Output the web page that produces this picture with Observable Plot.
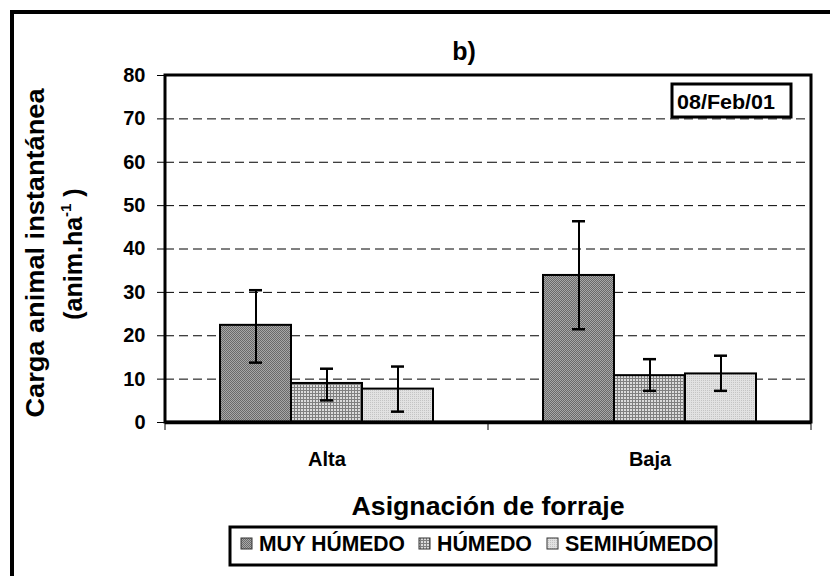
<!DOCTYPE html>
<html><head><meta charset="utf-8">
<script src="https://cdn.jsdelivr.net/npm/d3@7"></script>
<script src="https://cdn.jsdelivr.net/npm/@observablehq/plot@0.6"></script>
<style>
html,body{margin:0;padding:0;background:#fff;overflow:hidden;width:830px;height:576px;}
#wrap{position:relative;width:830px;height:576px;font-family:"Liberation Sans",Arial,sans-serif;font-weight:bold;color:#000;}
#outer{position:absolute;left:10px;top:10px;width:900px;height:700px;border:4px solid #000;box-sizing:border-box;}
#chart{position:absolute;left:0;top:0;}
#annot{position:absolute;left:0;top:0;pointer-events:none;}
#annot text{font-family:"Liberation Sans",Arial,sans-serif;font-weight:bold;fill:#000;}
</style></head>
<body>
<div id="wrap">
<svg width="0" height="0" style="position:absolute">
  <defs>
    <pattern id="pMuy" patternUnits="userSpaceOnUse" width="2" height="2">
      <rect width="2" height="2" fill="#a8a8a8"/>
      <rect x="0" y="0" width="1" height="1" fill="#6a6a6a"/>
      <rect x="1" y="1" width="1" height="1" fill="#6a6a6a"/>
    </pattern>
    <pattern id="pHum" patternUnits="userSpaceOnUse" width="3" height="3">
      <rect width="3" height="3" fill="#dcdcdc"/>
      <rect x="0" y="0" width="3" height="1" fill="#808080"/>
      <rect x="0" y="0" width="1" height="3" fill="#808080"/>
    </pattern>
    <pattern id="pSemi" patternUnits="userSpaceOnUse" width="2" height="2">
      <rect width="2" height="2" fill="#e2e2e2"/>
      <rect x="0" y="0" width="1" height="1" fill="#c4c4c4"/>
    </pattern>
  </defs>
</svg>
<div id="outer"></div>
<div id="chart"></div>
<svg id="annot" width="830" height="576"></svg>
</div>
<script>
// ---- data ----
const groups = ["Alta", "Baja"];
const series = ["MUY HÚMEDO", "HÚMEDO", "SEMIHÚMEDO"];
const muyHumedo = [22.4, 33.9];
const humedo = [9.0, 10.8];
const semihumedo = [7.7, 11.2];
const muyHumedoUpper = [30.5, 46.4];
const muyHumedoLower = [13.8, 21.5];
const humedoUpper = [12.4, 14.6];
const humedoLower = [5.1, 7.3];
const semihumedoUpper = [12.9, 15.4];
const semihumedoLower = [2.5, 7.3];
const yTicks = [0, 10, 20, 30, 40, 50, 60, 70, 80];
const title = "b)";
const dateLabel = "08/Feb/01";
const xTitle = "Asignación de forraje";
const yTitle1 = "Carga animal instantánea";

const patterns = {"MUY HÚMEDO": "url(#pMuy)", "HÚMEDO": "url(#pHum)", "SEMIHÚMEDO": "url(#pSemi)"};
const valuesBySeries = [muyHumedo, humedo, semihumedo];
const upperBySeries = [muyHumedoUpper, humedoUpper, semihumedoUpper];
const lowerBySeries = [muyHumedoLower, humedoLower, semihumedoLower];

const rows = [];
series.forEach((s, si) => groups.forEach((g, gi) => rows.push({
  group: g, series: s, value: valuesBySeries[si][gi], hi: upperBySeries[si][gi], lo: lowerBySeries[si][gi]
})));
const gridValues = yTicks.filter(v => v > 0 && v < d3.max(yTicks));

const barMarks = series.map(s => Plot.barY(rows.filter(d => d.series === s), {
  fx: "group", x: "series", y: "value", fill: patterns[s], stroke: "#000", strokeWidth: 2
}));

const chart = Plot.plot({
  width: 830, height: 576,
  marginLeft: 165, marginRight: 19, marginTop: 75, marginBottom: 154,
  style: {fontFamily: "Liberation Sans, Arial, sans-serif", fontWeight: "bold", fontSize: "20px", background: "transparent", color: "#000", overflow: "visible"},
  fx: {domain: groups, padding: 0, axis: "bottom", tickSize: 0, tickPadding: 29, label: null},
  x: {domain: series, paddingInner: 0, paddingOuter: 0.745, axis: null},
  y: {domain: [0, d3.max(yTicks)], ticks: yTicks, tickSize: 8, tickPadding: 12, label: null},
  marks: [
    Plot.ruleY(gridValues, {stroke: "#000", strokeWidth: 1, strokeDasharray: "9,5"}),
    ...barMarks,
    Plot.ruleX(rows, {fx: "group", x: "series", y1: "lo", y2: "hi", stroke: "#000", strokeWidth: 2}),
    Plot.tickY(rows, {fx: "group", x: "series", y: "hi", stroke: "#000", strokeWidth: 2.5, insetLeft: 29, insetRight: 29}),
    Plot.tickY(rows, {fx: "group", x: "series", y: "lo", stroke: "#000", strokeWidth: 2.5, insetLeft: 29, insetRight: 29}),
    Plot.ruleY([0], {stroke: "#000", strokeWidth: 3.5})
  ]
});
document.getElementById("chart").appendChild(chart);

// frame + category boundary ticks, derived from the scales
const svgEl = chart.tagName.toLowerCase() === "svg" ? chart : chart.querySelector("svg");
const fxS = chart.scale("fx"), yS = chart.scale("y");
const xL = fxS.range[0], xR = fxS.range[1];
const yB = yS.range[0], yT = yS.range[1];
const sel = d3.select(svgEl);
sel.append("rect").attr("x", xL).attr("y", yT).attr("width", xR - xL).attr("height", yB - yT)
  .attr("fill", "none").attr("stroke", "#000").attr("stroke-width", 3);
const bounds = [xL, ...groups.slice(1).map(g => fxS.apply(g)), xR];
sel.append("g").selectAll("line").data(bounds).join("line")
  .attr("x1", d => d).attr("x2", d => d).attr("y1", yB).attr("y2", yB + 8)
  .attr("stroke", "#000").attr("stroke-width", 1);

// annotations
const A = d3.select("#annot");
A.append("text").attr("x", 464).attr("y", 60).attr("text-anchor", "middle").attr("font-size", 25).text(title);
// date box
A.append("rect").attr("x", 672).attr("y", 84).attr("width", 119).attr("height", 33)
  .attr("fill", "#fff").attr("stroke", "#000").attr("stroke-width", 3);
A.append("text").attr("x", 726).attr("y", 108.5).attr("text-anchor", "middle").attr("font-size", 21)
  .attr("textLength", 98).attr("lengthAdjust", "spacingAndGlyphs").text(dateLabel);
// y title
A.append("text").attr("transform", "translate(44,253) rotate(-90)").attr("text-anchor", "middle")
  .attr("font-size", 25).attr("textLength", 329).attr("lengthAdjust", "spacingAndGlyphs").text(yTitle1);
const t2 = A.append("text").attr("transform", "translate(82,254) rotate(-90)").attr("text-anchor", "middle").attr("font-size", 25);
t2.append("tspan").text("(anim.ha");
t2.append("tspan").attr("font-size", 15).attr("dy", -11).text("-1");
t2.append("tspan").attr("dy", 11).text(" )");
// x title
A.append("text").attr("x", 488).attr("y", 515).attr("text-anchor", "middle").attr("font-size", 26)
  .attr("textLength", 273).attr("lengthAdjust", "spacingAndGlyphs").text(xTitle);
// legend
A.append("rect").attr("x", 230).attr("y", 527).attr("width", 486).attr("height", 38)
  .attr("fill", "#fff").attr("stroke", "#000").attr("stroke-width", 3);
const legX = [241, 419, 547];
const legW = [146, 95, 148];
series.forEach((s, i) => {
  A.append("rect").attr("x", legX[i]).attr("y", 538).attr("width", 11).attr("height", 11)
    .attr("fill", patterns[s]).attr("stroke", "#333").attr("stroke-width", 1);
  A.append("text").attr("x", legX[i] + 18).attr("y", 551).attr("font-size", 22)
    .attr("textLength", legW[i]).attr("lengthAdjust", "spacingAndGlyphs").text(s);
});
</script>
</body></html>
